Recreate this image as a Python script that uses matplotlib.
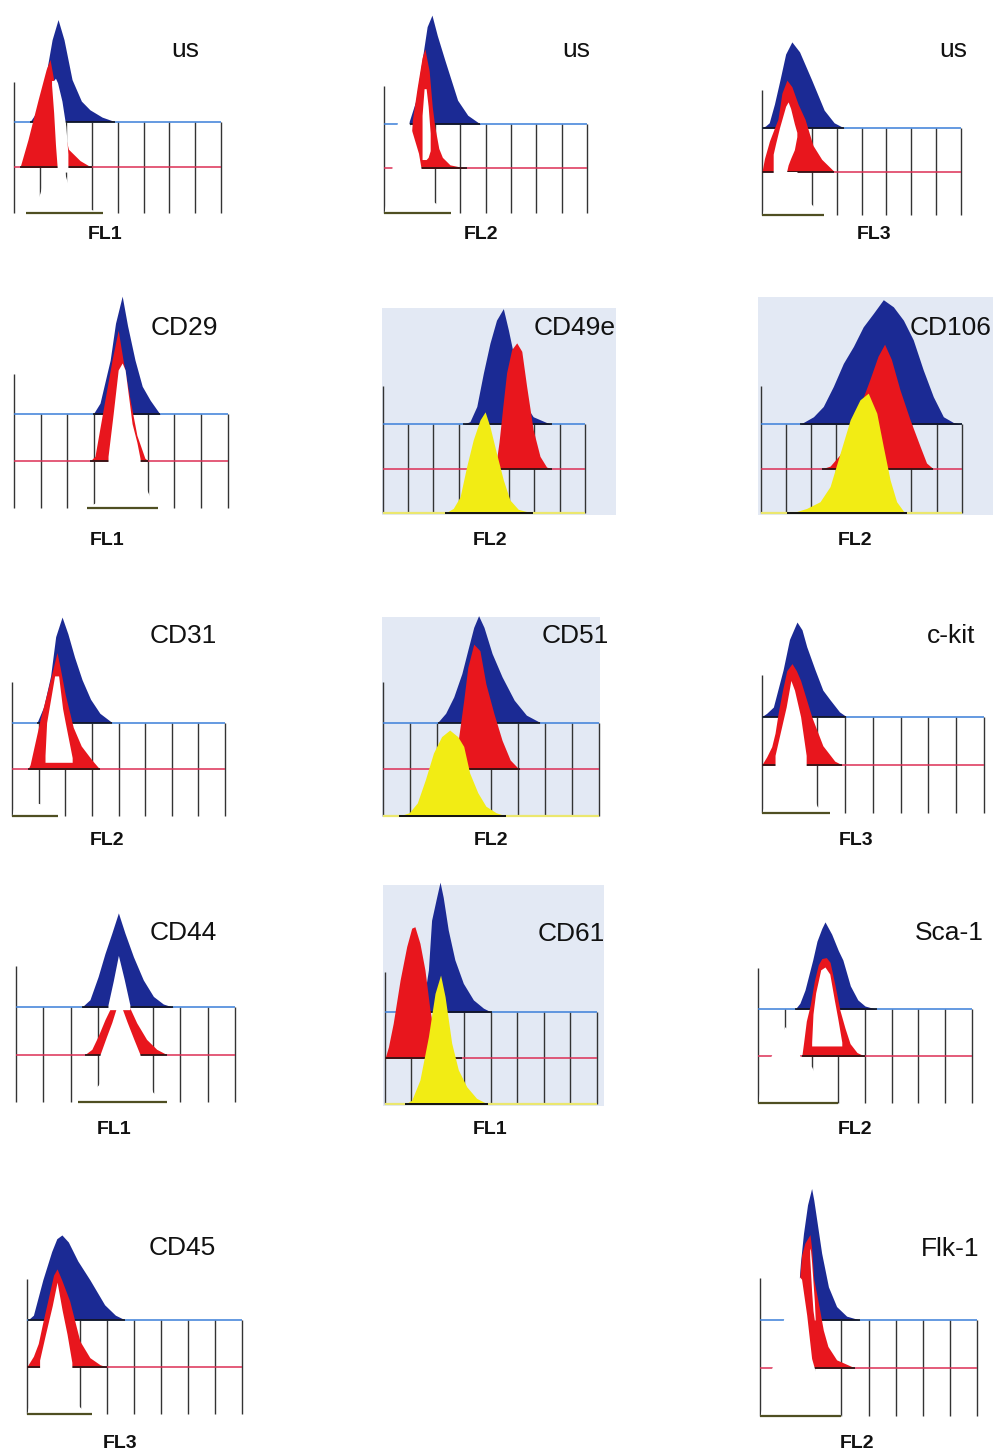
import matplotlib.pyplot as plt
from matplotlib.patches import Rectangle

W, H = 997, 1453

# histogram traces: (channel position in grid columns 0..8, height in offset units
# above the trace's own baseline). holes: (x, lower, upper) of white areas, measured
# from the bottom baseline.
us1_blue = [(0.62, 0), (0.93, 0.26), (1.2, 0.92), (1.47, 1.79), (1.7, 2.23), (1.93, 1.79), (2.24, 0.92),
            (2.6, 0.45), (2.93, 0.26), (3.4, 0.1), (3.9, 0)]
us1_red = [(0.23, 0), (0.54, 0.61), (0.93, 1.48), (1.24, 2.14), (1.39, 2.36), (1.6, 1.7), (1.85, 1.0),
           (2.1, 0.4), (2.55, 0.15), (3.0, 0)]
us1_front = [(0.46, 0), (0.8, 0.15), (1.0, 0.44), (1.2, 0.85), (1.5, 0.98), (1.9, 0.98), (2.1, 0.6),
             (2.4, 0.3), (2.8, 0.12), (3.2, 0.04), (3.45, 0)]
us1_holes = [[(1.45, 2.8, 2.9), (1.53, 2.2, 2.9), (1.6, 1.5, 2.95), (1.68, 0.9, 2.85), (1.85, 0.9, 2.45),
              (2.0, 0.9, 1.9), (2.08, 0.9, 1.3)]]

us2_blue = [(0.96, 0), (1.26, 0.54), (1.5, 1.44), (1.7, 2.2), (1.89, 2.46), (2.1, 2.0), (2.4, 1.44),
            (2.9, 0.54), (3.3, 0.2), (3.8, 0)]
us2_red = [(1.0, 0), (1.05, 0.5), (1.12, 1.1), (1.3, 1.8), (1.5, 2.5), (1.61, 2.7), (1.78, 2.2),
           (1.9, 1.4), (2.0, 0.95), (2.16, 0.45), (2.3, 0.25), (2.6, 0.08), (3.28, 0)]
us2_front = [(0, 0), (0.3, 0.9), (0.38, 1.6), (0.55, 2.1), (0.95, 2.1), (1.0, 2.0), (1.12, 1.8),
             (1.36, 1.34), (1.52, 0.8), (1.7, 0.5), (1.95, 0.25), (2.3, 0.1), (2.64, 0)]
us2_holes = [[(1.5, 1.2, 2.2), (1.58, 1.2, 2.8), (1.66, 1.2, 2.8), (1.74, 1.25, 2.4), (1.82, 1.4, 1.8)]]

us3_blue = [(0, 0), (0.15, 0.05), (0.29, 0.12), (0.5, 0.55), (0.72, 1.1), (0.95, 1.7), (1.2, 1.98),
            (1.51, 1.75), (2.0, 1.1), (2.5, 0.41), (2.9, 0.12), (3.3, 0)]
us3_red = [(0, 0), (0.1, 0.3), (0.3, 0.7), (0.5, 1.0), (0.64, 1.2), (0.8, 1.8), (1.0, 2.1), (1.2, 1.95),
           (1.45, 1.55), (1.73, 1.2), (2.05, 0.6), (2.4, 0.28), (2.9, 0)]
us3_front = [(0, 0), (0.3, 0.6), (0.45, 0.95), (0.6, 1.0), (1.4, 1.0), (1.6, 0.6), (1.9, 0.3),
             (2.2, 0.12), (2.48, 0)]
us3_holes = [[(0.45, 0.9, 1.4), (0.55, 0.9, 1.65), (0.7, 0.9, 2.0), (0.85, 0.9, 2.3), (0.95, 0.9, 2.5),
              (1.05, 1.15, 2.6), (1.15, 1.3, 2.45), (1.3, 1.5, 2.1), (1.4, 1.8, 1.9)]]

cd29_blue = [(2.96, 0), (3.22, 0.24), (3.6, 1.16), (3.8, 1.95), (4.05, 2.53), (4.25, 1.9), (4.53, 1.16),
             (4.8, 0.6), (5.1, 0.3), (5.47, 0)]
cd29_red = [(2.85, 0), (3.03, 0.1), (3.4, 1.3), (3.67, 2.16), (3.9, 2.8), (4.1, 2.1), (4.35, 1.3),
            (4.6, 0.55), (4.9, 0.06), (5.03, 0)]
cd29_front = [(2.72, 0), (3.03, 0.1), (3.3, 0.4), (3.6, 0.9), (3.8, 1.0), (4.6, 1.0), (4.8, 0.55),
              (4.97, 0.38), (5.2, 0.1), (5.4, 0)]
cd29_holes = [[(3.52, 0.9, 1.1), (3.71, 0.9, 2.0), (3.9, 0.9, 2.95), (4.05, 0.9, 3.1), (4.16, 0.9, 2.95),
               (4.42, 0.9, 1.8), (4.6, 0.9, 1.4), (4.72, 0.9, 1.05)]]

cd49e_blue = [(3.19, 0), (3.45, 0.06), (3.72, 0.4), (3.98, 1.15), (4.24, 1.82), (4.5, 2.34), (4.77, 2.6),
              (4.97, 2.12), (5.2, 1.5), (5.5, 0.8), (5.8, 0.3), (5.95, 0.17), (6.48, 0.04), (6.68, 0)]
cd49e_red = [(4.45, 0), (4.6, 0.6), (4.75, 1.4), (4.9, 2.16), (5.1, 2.68), (5.3, 2.83), (5.5, 2.64),
             (5.69, 1.86), (5.95, 0.88), (6.22, 0.28), (6.48, 0.04), (6.68, 0)]
cd49e_yellow = [(2.46, 0), (2.79, 0.11), (3.06, 0.37), (3.32, 1.05), (3.58, 1.65), (3.85, 2.1),
                (4.05, 2.28), (4.24, 1.95), (4.5, 1.35), (4.77, 0.75), (5.03, 0.3), (5.36, 0.09), (5.95, 0)]

cd106_blue = [(1.57, 0), (2.1, 0.17), (2.49, 0.4), (2.89, 0.85), (3.29, 1.37), (3.69, 1.75), (4.08, 2.19),
              (4.48, 2.49), (4.88, 2.8), (5.28, 2.64), (5.68, 2.34), (6.07, 1.9), (6.47, 1.22),
              (6.87, 0.62), (7.27, 0.17), (7.67, 0.04), (8.0, 0)]
cd106_red = [(2.43, 0), (2.76, 0.06), (3.16, 0.32), (3.56, 0.88), (3.95, 1.41), (4.34, 2.0), (4.67, 2.53),
             (4.93, 2.8), (5.2, 2.46), (5.54, 1.78), (5.94, 1.11), (6.34, 0.51), (6.6, 0.13), (6.87, 0)]
cd106_yellow = [(1.03, 0), (1.43, 0.04), (1.83, 0.11), (2.36, 0.26), (2.76, 0.6), (3.16, 1.35), (3.56, 2.1),
                (3.95, 2.55), (4.28, 2.7), (4.62, 2.25), (4.88, 1.5), (5.15, 0.75), (5.41, 0.26),
                (5.68, 0.05), (5.81, 0)]

cd31_blue = [(0.94, 0), (1.19, 0.34), (1.45, 1.0), (1.64, 1.84), (1.88, 2.26), (2.1, 1.9), (2.35, 1.4),
             (2.63, 0.92), (2.95, 0.5), (3.3, 0.2), (3.76, 0)]
cd31_red = [(0.6, 0), (0.68, 0.1), (1.05, 1.05), (1.43, 1.9), (1.69, 2.5), (1.8, 2.2), (2.0, 1.6),
            (2.3, 0.9), (2.6, 0.5), (3.0, 0.2), (3.3, 0)]
cd31_front = [(0, 0), (0.1, 0.3), (0.5, 0.3), (1.0, 0.27), (1.4, 0.2), (1.71, 0)]
cd31_holes = [[(1.24, 1.15, 1.3), (1.3, 1.15, 2.0), (1.45, 1.15, 2.5), (1.6, 1.15, 3.0), (1.75, 1.15, 3.0),
               (1.9, 1.15, 2.3), (2.0, 1.15, 2.0), (2.26, 1.15, 1.25)]]

cd51_blue = [(2.02, 0), (2.32, 0.2), (2.62, 0.55), (2.92, 1.05), (3.14, 1.55), (3.36, 2.04), (3.54, 2.29),
             (3.74, 2.04), (4.04, 1.48), (4.41, 0.98), (4.86, 0.48), (5.31, 0.16), (5.83, 0)]
cd51_red = [(2.5, 0), (2.65, 0.2), (2.77, 0.55), (2.99, 1.48), (3.14, 2.18), (3.36, 2.68), (3.59, 2.54),
            (3.81, 1.83), (4.11, 1.19), (4.41, 0.62), (4.71, 0.2), (5.01, 0.02), (5.08, 0)]
cd51_yellow = [(0.6, 0), (0.97, 0.07), (1.27, 0.28), (1.57, 0.78), (1.87, 1.35), (2.17, 1.7), (2.47, 1.84),
               (2.77, 1.7), (2.99, 1.49), (3.21, 0.92), (3.51, 0.5), (3.81, 0.21), (4.19, 0.07), (4.56, 0)]

ckit_blue = [(0, 0), (0.18, 0.07), (0.42, 0.2), (0.77, 0.97), (1.0, 1.6), (1.27, 1.96), (1.45, 1.8),
             (1.62, 1.45), (1.92, 0.97), (2.2, 0.55), (2.46, 0.35), (2.8, 0.1), (3.05, 0)]
ckit_red = [(0, 0), (0.18, 0.17), (0.36, 0.38), (0.48, 0.66), (0.6, 1.1), (0.75, 1.55), (0.9, 1.95),
            (1.09, 2.1), (1.25, 1.95), (1.4, 1.75), (1.8, 1.0), (2.2, 0.4), (2.63, 0.08), (2.9, 0)]
ckit_front = [(0, 0), (0.4, 0.7), (0.6, 0.95), (1.0, 1.0), (1.4, 0.9), (1.8, 0.4), (2.0, 0.14), (2.2, 0.06),
              (2.46, 0)]
ckit_holes = [[(0.48, 0.9, 1.2), (0.68, 0.9, 1.7), (0.88, 0.9, 2.2), (1.05, 0.9, 2.75), (1.18, 0.9, 2.55),
               (1.4, 0.9, 2.0), (1.6, 0.9, 1.2)]]

cd44_blue = [(2.4, 0), (2.7, 0.16), (3.0, 0.65), (3.25, 1.14), (3.5, 1.57), (3.74, 2.0), (3.98, 1.57),
             (4.29, 1.07), (4.65, 0.58), (5.02, 0.23), (5.38, 0.07), (5.75, 0)]
cd44_red = [(2.52, 0), (2.77, 0.11), (3.0, 0.39), (3.25, 0.74), (3.5, 1.04), (3.8, 1.1), (4.1, 1.06),
            (4.41, 0.67), (4.77, 0.32), (5.14, 0.11), (5.5, 0)]
cd44_front = [(2.28, 0), (2.6, 0.1), (3.0, 0.35), (3.4, 0.7), (3.7, 0.95), (4.0, 1.0), (4.4, 0.95),
              (4.7, 0.6), (5.0, 0.2), (5.3, 0.05), (5.5, 0)]
cd44_holes = [[(3.36, 1.95, 2.05), (3.55, 1.95, 2.55), (3.74, 1.95, 3.1), (3.95, 1.95, 2.6), (4.16, 1.95, 2.05)],
              [(3.07, 0.9, 1.0), (3.3, 0.9, 1.37), (3.5, 0.9, 1.68), (3.7, 0.9, 2.05), (3.83, 0.9, 2.05),
               (4.05, 0.9, 1.7), (4.3, 0.9, 1.33), (4.53, 0.9, 1.0)]]

cd61_blue = [(1.4, 0), (1.5, 0.4), (1.64, 0.92), (1.76, 2.0), (1.95, 2.5), (2.08, 2.83), (2.2, 2.5),
             (2.39, 1.79), (2.64, 1.14), (2.96, 0.63), (3.34, 0.27), (3.72, 0.09), (4.03, 0)]
cd61_red = [(0, 0), (0.13, 0.25), (0.31, 0.76), (0.57, 1.7), (0.82, 2.43), (1.01, 2.83), (1.13, 2.86),
            (1.32, 2.5), (1.51, 1.92), (1.7, 1.05), (1.89, 0.4), (2.08, 0.11), (2.5, 0.03), (2.9, 0)]
cd61_yellow = [(0.76, 0), (1.01, 0.09), (1.32, 0.53), (1.64, 1.47), (1.89, 2.41), (2.1, 2.81), (2.27, 2.34),
               (2.52, 1.33), (2.77, 0.75), (3.09, 0.38), (3.46, 0.13), (3.9, 0)]

sca1_blue = [(1.38, 0), (1.56, 0.13), (1.75, 0.41), (2.04, 1.05), (2.2, 1.45), (2.38, 1.72), (2.5, 1.86),
             (2.75, 1.6), (3.0, 1.25), (3.17, 1.05), (3.45, 0.5), (3.73, 0.2), (4.0, 0.07), (4.44, 0)]
sca1_red = [(1.63, 0), (1.7, 0.3), (1.8, 0.75), (1.95, 1.1), (2.1, 1.6), (2.25, 1.95), (2.38, 2.08),
            (2.55, 2.1), (2.69, 2.0), (2.88, 1.5), (3.06, 0.98), (3.25, 0.6), (3.44, 0.27), (3.7, 0.08),
            (4.0, 0)]
sca1_front = [(0, 0), (0.1, 0.5), (0.4, 0.9), (0.7, 1.3), (1.0, 1.63), (1.3, 1.45), (1.5, 1.1), (1.6, 0.95),
              (1.8, 0.85), (2.0, 0.78), (2.3, 0.4), (2.6, 0.12), (3.0, 0)]
sca1_holes = [[(2.0, 1.22, 1.3), (2.05, 1.22, 1.9), (2.15, 1.22, 2.35), (2.34, 1.22, 2.84), (2.5, 1.22, 2.9),
               (2.68, 1.22, 2.75), (2.85, 1.22, 2.2), (2.98, 1.22, 1.8), (3.13, 1.22, 1.3)]]

cd45_blue = [(0.05, 0), (0.25, 0.1), (0.6, 0.85), (0.93, 1.45), (1.12, 1.72), (1.31, 1.8), (1.55, 1.65),
             (1.9, 1.25), (2.35, 0.85), (2.9, 0.32), (3.3, 0.1), (3.66, 0)]
cd45_red = [(0, 0), (0.25, 0.23), (0.43, 0.5), (0.6, 0.95), (0.8, 1.45), (1.0, 1.95), (1.13, 2.08),
            (1.3, 1.85), (1.6, 1.4), (1.98, 0.55), (2.35, 0.2), (2.73, 0.05), (3.0, 0)]
cd45_front = [(0, 0), (0.3, 0.7), (0.6, 0.95), (1.0, 1.0), (1.3, 0.95), (1.6, 0.5), (1.9, 0.2), (2.1, 0.08),
              (2.42, 0)]
cd45_holes = [[(0.48, 0.9, 1.15), (0.7, 0.9, 1.7), (0.95, 0.9, 2.3), (1.13, 0.9, 2.8), (1.32, 0.9, 2.2),
               (1.5, 0.9, 1.7), (1.68, 0.9, 1.1)]]

flk1_blue = [(1.3, 0), (1.4, 0.5), (1.49, 1.2), (1.6, 1.8), (1.75, 2.4), (1.9, 2.74), (1.98, 2.5),
             (2.09, 2.08), (2.27, 1.39), (2.52, 0.69), (2.82, 0.28), (3.19, 0.08), (3.68, 0)]
flk1_red = [(1.2, 0), (1.35, 1.0), (1.45, 1.8), (1.53, 2.35), (1.65, 2.6), (1.84, 2.78), (1.9, 2.5),
            (1.98, 1.85), (2.1, 1.5), (2.2, 1.2), (2.33, 0.79), (2.5, 0.45), (2.82, 0.17), (3.5, 0)]
flk1_front = [(0, 0), (0.3, 0.8), (0.5, 1.1), (0.9, 2.1), (1.2, 2.6), (1.45, 2.9), (1.53, 2.85),
              (1.72, 2.1), (1.9, 1.2), (2.0, 1.0), (2.2, 0.7), (2.6, 0.3), (3.0, 0)]
flk1_holes = [[(1.83, 3.3, 3.5), (1.86, 3.0, 3.45), (1.9, 2.6, 3.2), (1.95, 2.2, 2.8), (2.0, 2.0, 2.4),
               (2.03, 2.0, 2.05)]]

# panel placement in pixels: (left grid line, right grid line, bottom baseline, baseline spacing)
panels = [
    dict(mark='us', chan='FL1', box=(14, 221.3, 213.3, 45.8), mark_at=(185, 57), chan_at=(105, 239),
         blue=us1_blue, red=us1_red, front=us1_front, holes=us1_holes),
    dict(mark='us', chan='FL2', box=(384, 587, 212.7, 44.3), mark_at=(576, 57), chan_at=(481, 239),
         blue=us2_blue, red=us2_red, front=us2_front, holes=us2_holes),
    dict(mark='us', chan='FL3', box=(762, 961, 215, 43.5), mark_at=(953, 57), chan_at=(874, 239),
         blue=us3_blue, red=us3_red, front=us3_front, holes=us3_holes),
    dict(mark='CD29', chan='FL1', box=(14, 227.7, 507.7, 46.7), mark_at=(184, 335), chan_at=(107, 545),
         blue=cd29_blue, red=cd29_red, front=cd29_front, holes=cd29_holes),
    dict(mark='CD49e', chan='FL2', box=(382.7, 585, 513.3, 44.5), mark_at=(575, 335), chan_at=(490, 545),
         blue=cd49e_blue, red=cd49e_red, yellow=cd49e_yellow, bg=(382, 308, 616, 515)),
    dict(mark='CD106', chan='FL2', box=(760.7, 961.7, 513.3, 44.5), mark_at=(951, 335), chan_at=(855, 545),
         blue=cd106_blue, red=cd106_red, yellow=cd106_yellow, bg=(758, 297, 993, 515)),
    dict(mark='CD31', chan='FL2', box=(12, 225, 816, 46.7), mark_at=(183, 643), chan_at=(107, 845),
         blue=cd31_blue, red=cd31_red, front=cd31_front, holes=cd31_holes),
    dict(mark='CD51', chan='FL2', box=(383, 599, 816, 46.7), mark_at=(575, 643), chan_at=(491, 845),
         blue=cd51_blue, red=cd51_red, yellow=cd51_yellow, bg=(382, 617, 600, 817)),
    dict(mark='c-kit', chan='FL3', box=(761.7, 984, 813.3, 48.3), mark_at=(951, 643), chan_at=(856, 845),
         blue=ckit_blue, red=ckit_red, front=ckit_front, holes=ckit_holes),
    dict(mark='CD44', chan='FL1', box=(16, 235, 1101.7, 47.2), mark_at=(183, 940), chan_at=(114, 1134),
         blue=cd44_blue, red=cd44_red, front=cd44_front, holes=cd44_holes),
    dict(mark='CD61', chan='FL1', box=(385, 596.7, 1104.3, 46), mark_at=(571, 941), chan_at=(490, 1134),
         blue=cd61_blue, red=cd61_red, yellow=cd61_yellow, bg=(383, 885, 604, 1106)),
    dict(mark='Sca-1', chan='FL2', box=(758.3, 971.7, 1103.3, 47), mark_at=(949, 940), chan_at=(855, 1134),
         blue=sca1_blue, red=sca1_red, front=sca1_front, holes=sca1_holes),
    dict(mark='CD45', chan='FL3', box=(26.7, 241.7, 1414.3, 47.2), mark_at=(182, 1255), chan_at=(120, 1448),
         blue=cd45_blue, red=cd45_red, front=cd45_front, holes=cd45_holes),
    dict(mark='Flk-1', chan='FL2', box=(760, 977.3, 1416, 48), mark_at=(950, 1256), chan_at=(857, 1448),
         blue=flk1_blue, red=flk1_red, front=flk1_front, holes=flk1_holes),
]

BLUE = '#1b2a94'
RED = '#e8161d'
YELLOW = '#f2ec14'
BLUE_LINE = '#3b7fd9'
RED_LINE = '#dc2f55'
GRID = '#333333'
OLIVE = '#4f4f22'
PALE_YELLOW = '#ebe76e'
BG = '#e3e9f4'

plt.rcParams['font.family'] = ['Liberation Sans', 'DejaVu Sans']

fig = plt.figure(figsize=(W / 100, H / 100), dpi=100)
fig.patch.set_facecolor('white')


def unzip(trace):
    return [p[0] for p in trace], [p[1] for p in trace]


def draw_panel(p):
    left, right, bottom, gap = p['box']
    unit = (right - left) / 8
    pad_x, pad_lo, top = 0.2, 0.2, 5.0
    ax = fig.add_axes([(left - pad_x * unit) / W, 1 - (bottom + pad_lo * gap) / H,
                       (8 + 2 * pad_x) * unit / W, (top + pad_lo) * gap / H])
    ax.set_xlim(-pad_x, 8 + pad_x)
    ax.set_ylim(-pad_lo, top)
    ax.axis('off')
    ax.patch.set_alpha(0)

    if 'bg' in p:
        x0, y0, x1, y1 = p['bg']
        fig.patches.append(Rectangle((x0 / W, 1 - y1 / H), (x1 - x0) / W, (y1 - y0) / H,
                                     transform=fig.transFigure, color=BG, lw=0, zorder=-1))

    # grid: tall left edge, shorter channel dividers, offset baselines
    ax.vlines(0, 0, 2.87, color=GRID, lw=1.0, zorder=1)
    ax.vlines(range(1, 9), 0, 2, color=GRID, lw=1.0, zorder=1)
    ax.hlines(2, 0, 8, color=BLUE_LINE, lw=1.1, zorder=1.5)
    ax.hlines(1, 0, 8, color=RED_LINE, lw=1.1, zorder=1.5)

    bx, bh = unzip(p['blue'])
    ax.fill_between(bx, 2, [2 + v for v in bh], color=BLUE, lw=0, zorder=2)
    ax.hlines(2, bx[0], bx[-1], color='#111111', lw=1.1, zorder=2.1)

    rx, rh = unzip(p['red'])
    ax.fill_between(rx, 1, [1 + v for v in rh], color=RED, lw=0, zorder=3)
    ax.hlines(1, rx[0], rx[-1], color='#111111', lw=1.1, zorder=3.1)

    for hole in p.get('holes', []):
        hx = [q[0] for q in hole]
        ax.fill_between(hx, [q[1] for q in hole], [q[2] for q in hole], color='white', lw=0, zorder=4)

    if 'yellow' in p:
        ax.hlines(0, 0, 8, color=PALE_YELLOW, lw=1.6, zorder=1.2)
        yx, yh = unzip(p['yellow'])
        ax.fill_between(yx, 0, yh, color=YELLOW, lw=0, zorder=5)
        ax.hlines(0, yx[0], yx[-1], color='#111111', lw=1.4, zorder=5.1)
    else:
        fx, fh = unzip(p['front'])
        ax.fill_between(fx, 0, fh, color='white', lw=0, zorder=5)
        ax.hlines(0, fx[0], fx[-1], color=OLIVE, lw=1.6, zorder=5.1)

    mx, my = p['mark_at']
    fig.text(mx / W, 1 - my / H, p['mark'], ha='center', va='baseline', fontsize=19, color='#111111')
    cx, cy = p['chan_at']
    fig.text(cx / W, 1 - cy / H, p['chan'], ha='center', va='baseline', fontsize=14,
             fontweight='bold', color='#111111')


for panel in panels:
    draw_panel(panel)

fig.savefig('out.png', dpi=100, facecolor='white')
